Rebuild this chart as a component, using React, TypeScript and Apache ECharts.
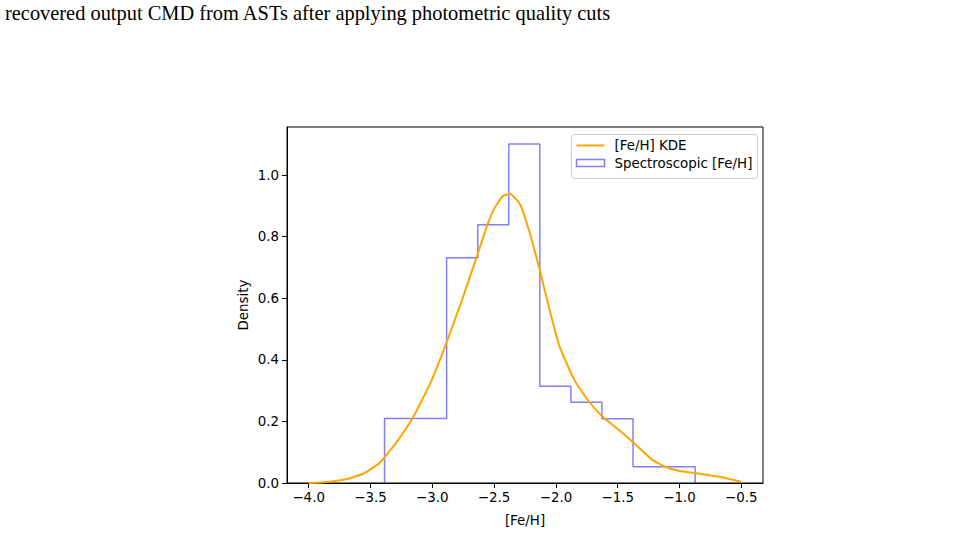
import React, { useEffect, useRef } from "react";
import * as echarts from "echarts";

// Spectroscopic [Fe/H] histogram: bin edges and star counts per bin
const binEdges = [-3.386, -3.135, -2.884, -2.632, -2.381, -2.13, -1.879, -1.628, -1.376, -1.125, -0.874];
const binCounts = [4, 4, 14, 16, 21, 6, 5, 4, 1, 1];

// Kernel density estimate of [Fe/H]
const kdeX = [
  -4.0, -3.9, -3.83, -3.7, -3.56, -3.43, -3.29, -3.16, -3.02, -2.89, -2.75, -2.64, -2.55,
  -2.5, -2.43, -2.37, -2.29, -2.21, -2.13, -2.05, -1.97, -1.85, -1.73, -1.62, -1.49, -1.37,
  -1.22, -1.11, -1.0, -0.86, -0.68, -0.5,
];
const kdeY = [
  0.0, 0.002, 0.004, 0.012, 0.03, 0.064, 0.132, 0.21, 0.32, 0.45, 0.605, 0.735, 0.843,
  0.89, 0.932, 0.938, 0.905, 0.81, 0.69, 0.56, 0.443, 0.334, 0.263, 0.214, 0.172, 0.13,
  0.075, 0.052, 0.039, 0.032, 0.02, 0.004,
];

const xTicks = [-4.0, -3.5, -3.0, -2.5, -2.0, -1.5, -1.0, -0.5];
const yTicks = [0.0, 0.2, 0.4, 0.6, 0.8, 1.0];

const captionText = "recovered output CMD from ASTs after applying photometric quality cuts";
const kdeName = "[Fe/H] KDE";
const histName = "Spectroscopic [Fe/H]";

const FONT = "DejaVu Sans";
const FS = 13.4;
const fmt = (v: number) => v.toFixed(1).replace("-", "\u2212");

export default function App() {
  const ref = useRef<HTMLDivElement>(null);

  useEffect(() => {
    if (!ref.current) return;
    const chart = echarts.init(ref.current, undefined, { renderer: "svg" });

    // density normalisation of the counts
    const total = binCounts.reduce((a, b) => a + b, 0);
    const density = binCounts.map((c, i) => c / (total * (binEdges[i + 1] - binEdges[i])));

    // step outline of the histogram
    const histPts: number[][] = [[binEdges[0], 0]];
    density.forEach((d, i) => {
      histPts.push([binEdges[i], d]);
      histPts.push([binEdges[i + 1], d]);
    });
    histPts.push([binEdges[binEdges.length - 1], 0]);

    const kdePts = kdeX.map((x, i) => [x, kdeY[i]]);

    const xMin = -4.175;
    const xMax = -0.325;
    const yMax = Math.max(...density) * 1.05;

    chart.setOption({
      animation: false,
      backgroundColor: "#ffffff",
      grid: {
        left: 287,
        right: 210,
        top: 127,
        bottom: 69,
        show: true,
        borderColor: "#000",
        borderWidth: 1,
        backgroundColor: "transparent",
      },
      xAxis: {
        type: "value",
        min: xMin,
        max: xMax,
        name: "[Fe/H]",
        nameLocation: "middle",
        nameGap: 31,
        nameTextStyle: { fontFamily: FONT, fontSize: FS, color: "#000" },
        axisLine: { show: true, onZero: false, lineStyle: { color: "#000", width: 1 } },
        axisTick: { show: true, length: 5, lineStyle: { color: "#000", width: 1 }, customValues: xTicks },
        axisLabel: {
          fontFamily: FONT,
          fontSize: FS,
          color: "#000",
          margin: 8,
          customValues: xTicks,
          formatter: (v: number) => fmt(v),
        },
        splitLine: { show: false },
      },
      yAxis: {
        type: "value",
        min: 0,
        max: yMax,
        name: "Density",
        nameLocation: "middle",
        nameGap: 37,
        nameRotate: 90,
        nameTextStyle: { fontFamily: FONT, fontSize: FS, color: "#000" },
        axisLine: { show: true, lineStyle: { color: "#000", width: 1 } },
        axisTick: { show: true, length: 5, lineStyle: { color: "#000", width: 1 }, customValues: yTicks },
        axisLabel: {
          fontFamily: FONT,
          fontSize: FS,
          color: "#000",
          margin: 8,
          customValues: yTicks,
          formatter: (v: number) => fmt(v),
        },
        splitLine: { show: false },
      },
      series: [
        {
          name: histName,
          type: "line",
          data: histPts,
          showSymbol: false,
          symbol: "none",
          lineStyle: { color: "rgba(0,0,255,0.5)", width: 1.5 },
          z: 2,
        },
        {
          name: kdeName,
          type: "line",
          data: kdePts,
          showSymbol: false,
          symbol: "none",
          smooth: 0.15,
          lineStyle: { color: "#ffa500", width: 2 },
          z: 3,
        },
      ],
      graphic: [
        {
          type: "text",
          left: 5,
          top: 3,
          style: {
            text: captionText,
            font: '20.4px "Liberation Serif"',
            fill: "#000",
          },
        },
        {
          type: "group",
          left: 571,
          top: 134,
          children: [
            {
              type: "rect",
              shape: { x: 0, y: 0, width: 186, height: 44, r: 3 },
              style: { fill: "rgba(255,255,255,0.8)", stroke: "#cccccc", lineWidth: 1 },
            },
            {
              type: "line",
              shape: { x1: 5, y1: 11, x2: 33, y2: 11 },
              style: { stroke: "#ffa500", lineWidth: 2 },
            },
            {
              type: "text",
              x: 43,
              y: 11,
              style: {
                text: kdeName,
                font: `${FS}px "${FONT}"`,
                fill: "#000",
                verticalAlign: "middle",
              },
            },
            {
              type: "rect",
              shape: { x: 5, y: 25, width: 28, height: 7 },
              style: { fill: "none", stroke: "rgba(0,0,255,0.5)", lineWidth: 1.5 },
            },
            {
              type: "text",
              x: 43,
              y: 29,
              style: {
                text: histName,
                font: `${FS}px "${FONT}"`,
                fill: "#000",
                verticalAlign: "middle",
              },
            },
          ],
        },
      ],
    });

    return () => chart.dispose();
  }, []);

  return (
    <div
      ref={ref}
      style={{ position: "fixed", left: 0, top: 0, width: 973, height: 552, background: "#fff" }}
    />
  );
}
